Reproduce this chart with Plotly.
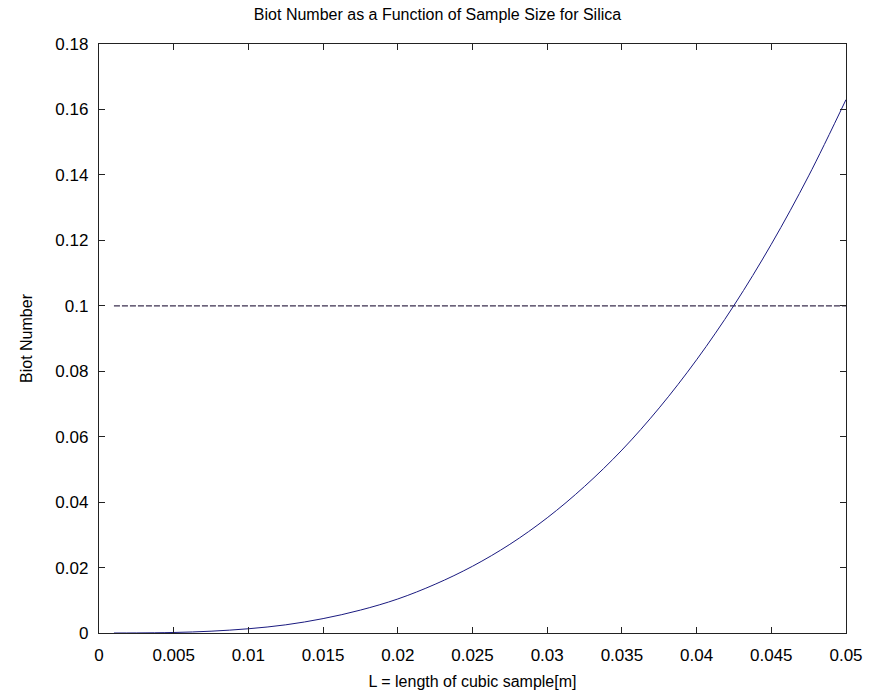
import plotly.graph_objects as go

L_vals = [0.001, 0.0025, 0.005, 0.0075, 0.01, 0.0125, 0.015, 0.0175, 0.02, 0.0225,
          0.025, 0.0275, 0.03, 0.0325, 0.035, 0.0375, 0.04, 0.0425, 0.045, 0.0475, 0.05]
biot_vals = [0.0, 0.00002, 0.00016, 0.00055, 0.0013, 0.0025, 0.0044, 0.0070, 0.0104, 0.0149,
             0.0204, 0.0271, 0.0352, 0.0448, 0.0559, 0.0688, 0.0835, 0.1001, 0.1188, 0.1397, 0.163]
limit_x = [0.001, 0.05]
limit_y = [0.1, 0.1]

x_ticks = [0, 0.005, 0.01, 0.015, 0.02, 0.025, 0.03, 0.035, 0.04, 0.045, 0.05]
x_tick_text = ["0", "0.005", "0.01", "0.015", "0.02", "0.025", "0.03", "0.035", "0.04", "0.045", "0.05"]
y_ticks = [0, 0.02, 0.04, 0.06, 0.08, 0.1, 0.12, 0.14, 0.16, 0.18]
y_tick_text = ["0", "0.02", "0.04", "0.06", "0.08", "0.1", "0.12", "0.14", "0.16", "0.18"]

font = "Liberation Sans, Arial, sans-serif"

fig = go.Figure()
fig.add_trace(go.Scatter(x=limit_x, y=limit_y, mode="lines",
                         line=dict(color="#3b2f4f", width=1.3, dash="6px,2px"),
                         showlegend=False))
fig.add_trace(go.Scatter(x=L_vals, y=biot_vals, mode="lines", line_shape="spline",
                         line=dict(color="#1a1a80", width=1), showlegend=False))

axis_common = dict(showline=True, linecolor="#222222", linewidth=1.3, mirror="ticks",
                   ticks="inside", ticklen=6, tickcolor="#222222", showgrid=False,
                   zeroline=False, tickfont=dict(family=font, size=17, color="black"))

fig.update_layout(
    width=875, height=700,
    margin=dict(l=99, r=22, t=44, b=66),
    paper_bgcolor="white", plot_bgcolor="white",
    title=dict(text="Biot Number as a Function of Sample Size for Silica",
               x=0.5, xanchor="center", y=0.988, yanchor="top",
               font=dict(family=font, size=16, color="black")),
    xaxis=dict(range=[0, 0.05], tickvals=x_ticks, ticktext=x_tick_text,
               ticklabelstandoff=6,
               title=dict(text="L = length of cubic sample[m]", standoff=12,
                          font=dict(family=font, size=16, color="black")),
               **axis_common),
    yaxis=dict(range=[0, 0.18], tickvals=y_ticks, ticktext=y_tick_text,
               ticklabelstandoff=6,
               title=dict(text="Biot Number", standoff=18,
                          font=dict(family=font, size=16, color="black")),
               **axis_common),
)

fig.write_html("out.html")
